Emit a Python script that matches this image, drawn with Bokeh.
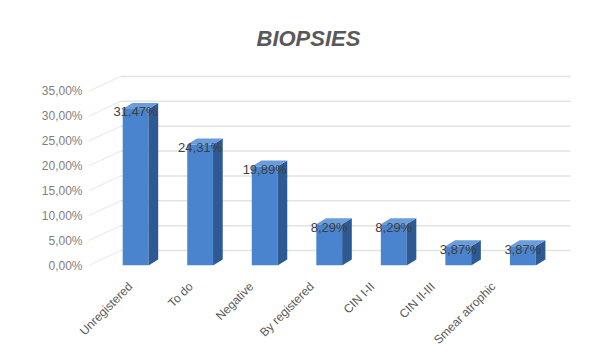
from bokeh.plotting import figure
from bokeh.models import FixedTicker, Range1d, ColumnDataSource, LinearAxis
from bokeh.core.properties import value
from bokeh.embed import file_html
from bokeh.resources import INLINE
import math

categories = ["Unregistered", "To do", "Negative", "By registered", "CIN I-II", "CIN II-III", "Smear atrophic"]
values = [31.47, 24.31, 19.89, 8.29, 8.29, 3.87, 3.87]
value_labels = ["31,47%", "24,31%", "19,89%", "8,29%", "8,29%", "3,87%", "3,87%"]
y_ticks = [0, 5, 10, 15, 20, 25, 30, 35]
y_tick_labels = ["0,00%", "5,00%", "10,00%", "15,00%", "20,00%", "25,00%", "30,00%", "35,00%"]

FONT = "Liberation Sans"
FRONT = "#4A84CF"
SIDE = "#2D5A94"
TOP = "#6A9DDB"

x_start, x_end = -0.73, 6.77
y_start, y_end = 0, 39

p = figure(width=595, height=355, output_backend="svg", toolbar_location=None,
           x_range=Range1d(x_start, x_end), y_range=Range1d(y_start, y_end),
           x_axis_location=None,
           min_border_left=88, min_border_right=23, min_border_top=71, min_border_bottom=90)
p.outline_line_color = None
p.xgrid.visible = False
p.ygrid.visible = False
p.background_fill_color = "white"
p.border_fill_color = "white"

p.title.text = "BIOPSIES"
p.title.align = "left"
p.title.offset = 168
p.title.text_font = FONT
p.title.text_font_size = "22px"
p.title.text_font_style = "bold italic"
p.title.text_color = "#595959"
p.title.standoff = 41

# 3D depth (in data units)
w = 0.40
dx = 0.15
dy = 1.2
wall_dy = 3.0
wall_left = -0.235
wall_right = 6.74

p.segment(x0=[wall_left] * len(y_ticks), y0=[t + wall_dy for t in y_ticks],
          x1=[wall_right] * len(y_ticks), y1=[t + wall_dy for t in y_ticks],
          line_color="#e3e3e3", line_width=1.5)
p.segment(x0=[x_start] * len(y_ticks), y0=y_ticks,
          x1=[wall_left] * len(y_ticks), y1=[t + wall_dy for t in y_ticks],
          line_color="#ececec", line_width=1.2)

xs = list(range(len(categories)))
src = ColumnDataSource(dict(x=xs, top=values, lab=value_labels))
p.vbar(x="x", top="top", bottom=0, width=w, source=src, fill_color=FRONT, line_color=None)
side_xs = [[i + w / 2, i + w / 2 + dx, i + w / 2 + dx, i + w / 2] for i in xs]
side_ys = [[0, dy, v + dy, v] for v in values]
p.patches(side_xs, side_ys, fill_color=SIDE, line_color=None)
top_xs = [[i - w / 2, i - w / 2 + dx, i + w / 2 + dx, i + w / 2] for i in xs]
top_ys = [[v, v + dy, v + dy, v] for v in values]
p.patches(top_xs, top_ys, fill_color=TOP, line_color=None)

p.text(x="x", y="top", text="lab", source=src, text_align="center", text_baseline="middle",
       y_offset=3, text_font=value(FONT), text_font_size="13px", text_color="#404040")

p.yaxis.ticker = FixedTicker(ticks=y_ticks)
p.yaxis.major_label_overrides = {t: l for t, l in zip(y_ticks, y_tick_labels)}
p.yaxis.axis_line_color = None
p.yaxis.major_tick_line_color = None
p.yaxis.minor_tick_line_color = None
p.yaxis.major_label_standoff = 0
p.yaxis.major_label_text_font = FONT
p.yaxis.major_label_text_font_size = "12px"
p.yaxis.major_label_text_color = "#7f7f7f"

# category axis drawn in perspective (labels sit on the floor's front edge)
p.extra_x_ranges = {"lab": Range1d(-0.694, -0.694 + 484 / 60.5)}
xax = LinearAxis(x_range_name="lab")
xax.ticker = FixedTicker(ticks=xs)
xax.major_label_overrides = {i: c for i, c in zip(xs, categories)}
xax.axis_line_color = None
xax.major_tick_line_color = None
xax.minor_tick_line_color = None
xax.major_label_orientation = math.pi / 4
xax.major_label_standoff = 13
xax.major_label_text_font = FONT
xax.major_label_text_font_size = "12px"
xax.major_label_text_color = "#595959"
p.add_layout(xax, "below")

open("out.html", "w").write(file_html(p, INLINE))
